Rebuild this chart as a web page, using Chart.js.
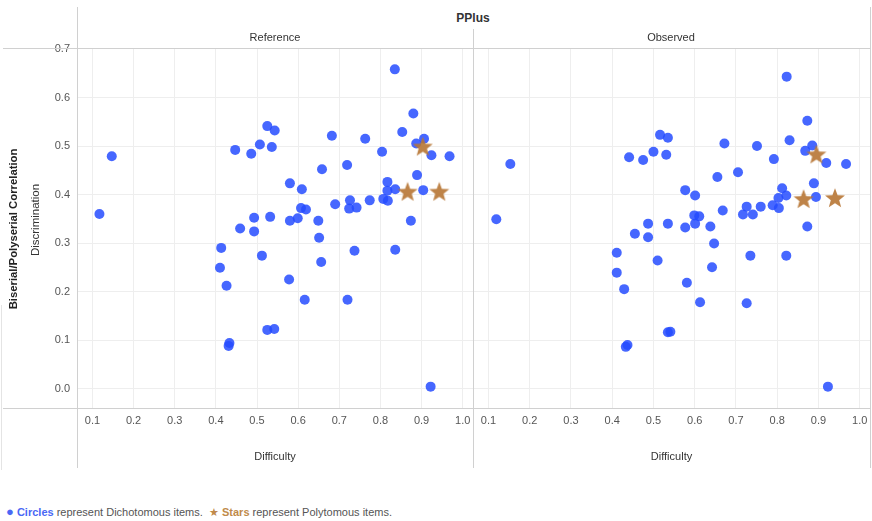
<!DOCTYPE html>
<html>
<head>
<meta charset="utf-8">
<script src="https://cdn.jsdelivr.net/npm/chart.js@4/dist/chart.umd.min.js"></script>
<style>
  body { margin: 0; background: #fff; font-family: "Liberation Sans", Arial, sans-serif; }
  #wrap { position: relative; width: 872px; height: 521px; overflow: hidden; }
  canvas { position: absolute; }
  .ln { position: absolute; background: #d0d0d0; }
  .txt { position: absolute; color: #333; white-space: nowrap; }
</style>
</head>
<body>
<div id="wrap">
  <canvas id="refChart" width="473" height="432" style="left:0;top:36px;"></canvas>
  <canvas id="obsChart" width="397" height="432" style="left:473px;top:36px;"></canvas>

  <div class="txt" style="left:473px;top:11px;transform:translateX(-50%);font-size:12px;font-weight:bold;">PPlus</div>
  <div class="txt" style="left:275px;top:31px;transform:translateX(-50%);font-size:11px;">Reference</div>
  <div class="txt" style="left:671px;top:31px;transform:translateX(-50%);font-size:11px;">Observed</div>
  <div class="txt" style="left:13px;top:229px;transform:translate(-50%,-50%) rotate(-90deg);font-size:11.3px;font-weight:bold;color:#222;">Biserial/Polyserial Correlation</div>
  <div class="txt" style="left:35px;top:220px;transform:translate(-50%,-50%) rotate(-90deg);font-size:11.5px;">Discrimination</div>

  <div class="ln" style="left:3px;top:48px;width:867px;height:1px;"></div>
  <div class="ln" style="left:3px;top:408px;width:867px;height:1px;"></div>
  <div class="ln" style="left:77px;top:7px;width:1px;height:461px;"></div>
  <div class="ln" style="left:473px;top:29px;width:1px;height:439px;"></div>
  <div class="ln" style="left:870px;top:7px;width:1px;height:461px;"></div>
  <div class="ln" style="left:1px;top:305px;width:1px;height:165px;background:#e4e4e4;"></div>

  <div class="txt" style="left:6px;top:504px;font-size:11px;color:#555;">
    <span style="color:#4a68f5;font-size:13px;">&#9679;</span>
    <b style="color:#4a68f5;">Circles</b> represent Dichotomous items.&nbsp;
    <span style="color:#c08a4a;">&#9733;</span>
    <b style="color:#c08a4a;">Stars</b> represent Polytomous items.
  </div>
</div>
<script>
const xTicks = [0.1, 0.2, 0.3, 0.4, 0.5, 0.6, 0.7, 0.8, 0.9, 1.0];
const yTicks = [0.0, 0.1, 0.2, 0.3, 0.4, 0.5, 0.6, 0.7];

// Reference panel
const refCircleDiff = [0.147, 0.117, 0.447, 0.486, 0.507, 0.525, 0.543, 0.536, 0.682, 0.763,
  0.835, 0.880, 0.853, 0.804, 0.887, 0.906, 0.924, 0.968, 0.658, 0.719,
  0.580, 0.609, 0.817, 0.817, 0.836, 0.889, 0.904, 0.807, 0.818, 0.774,
  0.726, 0.724, 0.742, 0.690, 0.607, 0.619, 0.599, 0.580, 0.649, 0.651,
  0.874, 0.532, 0.493, 0.493, 0.459, 0.413, 0.512, 0.410, 0.426, 0.578,
  0.616, 0.720, 0.656, 0.737, 0.836, 0.525, 0.542, 0.433, 0.431, 0.922];
const refCircleDisc = [0.479, 0.360, 0.492, 0.484, 0.503, 0.541, 0.532, 0.498, 0.521, 0.515,
  0.658, 0.567, 0.529, 0.488, 0.505, 0.515, 0.481, 0.479, 0.452, 0.461,
  0.423, 0.411, 0.426, 0.408, 0.411, 0.440, 0.409, 0.391, 0.387, 0.388,
  0.388, 0.371, 0.373, 0.380, 0.372, 0.369, 0.351, 0.346, 0.346, 0.311,
  0.346, 0.354, 0.352, 0.324, 0.330, 0.290, 0.274, 0.249, 0.212, 0.225,
  0.183, 0.183, 0.261, 0.284, 0.286, 0.121, 0.123, 0.094, 0.088, 0.004];
const refStarDiff = [0.903, 0.866, 0.943];
const refStarDisc = [0.499, 0.406, 0.406];

// Observed panel
const obsCircleDiff = [0.153, 0.119, 0.823, 0.873, 0.830, 0.885, 0.868, 0.919, 0.967, 0.792,
  0.751, 0.672, 0.516, 0.535, 0.500, 0.531, 0.441, 0.475, 0.655, 0.705,
  0.577, 0.601, 0.812, 0.889, 0.822, 0.803, 0.894, 0.789, 0.804, 0.760,
  0.726, 0.717, 0.741, 0.668, 0.599, 0.611, 0.601, 0.577, 0.638, 0.647,
  0.873, 0.535, 0.487, 0.487, 0.455, 0.411, 0.510, 0.411, 0.429, 0.581,
  0.613, 0.726, 0.642, 0.735, 0.822, 0.535, 0.541, 0.437, 0.433, 0.923];
const obsCircleDisc = [0.463, 0.349, 0.643, 0.552, 0.512, 0.501, 0.490, 0.465, 0.463, 0.473,
  0.500, 0.505, 0.523, 0.517, 0.488, 0.482, 0.477, 0.471, 0.436, 0.446,
  0.409, 0.398, 0.413, 0.423, 0.398, 0.393, 0.395, 0.378, 0.372, 0.375,
  0.375, 0.359, 0.359, 0.367, 0.357, 0.355, 0.340, 0.332, 0.334, 0.299,
  0.334, 0.340, 0.340, 0.312, 0.319, 0.280, 0.264, 0.239, 0.205, 0.218,
  0.178, 0.176, 0.250, 0.274, 0.274, 0.116, 0.117, 0.090, 0.086, 0.004];
const obsStarDiff = [0.895, 0.864, 0.940];
const obsStarDisc = [0.483, 0.391, 0.393];

const circleColor = 'rgba(38, 76, 255, 0.85)';
const starColor = 'rgba(183, 118, 52, 0.9)';

// filled five point star used as point image
function makeStar(size, color) {
    const c = document.createElement('canvas');
    c.width = size; c.height = size;
    const g = c.getContext('2d');
    const cx = size / 2, cy = size / 2 + 0.8;
    const R = size / 2 - 0.5, r = R * 0.42;
    g.beginPath();
    for (let i = 0; i < 10; i++) {
        const rad = i % 2 === 0 ? R : r;
        const a = -Math.PI / 2 + i * Math.PI / 5;
        g.lineTo(cx + rad * Math.cos(a), cy + rad * Math.sin(a));
    }
    g.closePath();
    g.fillStyle = color;
    g.fill();
    return c;
}
const starImg = makeStar(22, starColor);

function pts(xs, ys) {
    return xs.map((x, i) => ({ x: x, y: ys[i] }));
}

const tickFont = { family: '"Liberation Sans", Arial, sans-serif', size: 11 };

function makeConfig(circX, circY, starX, starY, showY) {
    return {
        type: 'scatter',
        data: {
            datasets: [
                {
                    label: 'Polytomous',
                    data: pts(starX, starY),
                    pointStyle: starImg,
                    order: 0
                },
                {
                    label: 'Dichotomous',
                    data: pts(circX, circY),
                    pointStyle: 'circle',
                    pointRadius: 5,
                    pointHoverRadius: 5,
                    pointBackgroundColor: circleColor,
                    pointBorderWidth: 0,
                    order: 1
                }
            ]
        },
        options: {
            responsive: false,
            animation: false,
            layout: { padding: { top: 12, left: 0, right: 0, bottom: 0 }, autoPadding: false },
            plugins: { legend: { display: false }, tooltip: { enabled: false } },
            scales: {
                x: {
                    type: 'linear',
                    min: 0.0625,
                    max: 1.025,
                    afterBuildTicks: s => { s.ticks = xTicks.map(v => ({ value: v })); },
                    afterFit: s => { s.height = 60; s.paddingLeft = 0; s.paddingRight = 0; },
                    grid: { color: '#eeeeee', drawTicks: false },
                    border: { display: false },
                    ticks: {
                        padding: 6,
                        color: '#555',
                        font: tickFont,
                        callback: v => Number(v).toFixed(1)
                    },
                    title: {
                        display: true,
                        text: 'Difficulty',
                        color: '#333',
                        font: { family: '"Liberation Sans", Arial, sans-serif', size: 11 },
                        padding: { top: 0, bottom: 4 }
                    }
                },
                y: {
                    type: 'linear',
                    min: -0.04,
                    max: 0.702,
                    afterBuildTicks: s => { s.ticks = yTicks.map(v => ({ value: v })); },
                    afterFit: s => { s.width = showY ? 77 : 0; s.paddingTop = 0; s.paddingBottom = 0; },
                    grid: { color: '#eeeeee', drawTicks: false },
                    border: { display: false },
                    ticks: {
                        display: showY,
                        padding: 7,
                        color: '#555',
                        font: tickFont,
                        callback: v => Number(v).toFixed(1)
                    }
                }
            }
        }
    };
}

new Chart(document.getElementById('refChart'),
    makeConfig(refCircleDiff, refCircleDisc, refStarDiff, refStarDisc, true));
new Chart(document.getElementById('obsChart'),
    makeConfig(obsCircleDiff, obsCircleDisc, obsStarDiff, obsStarDisc, false));
</script>
</body>
</html>
